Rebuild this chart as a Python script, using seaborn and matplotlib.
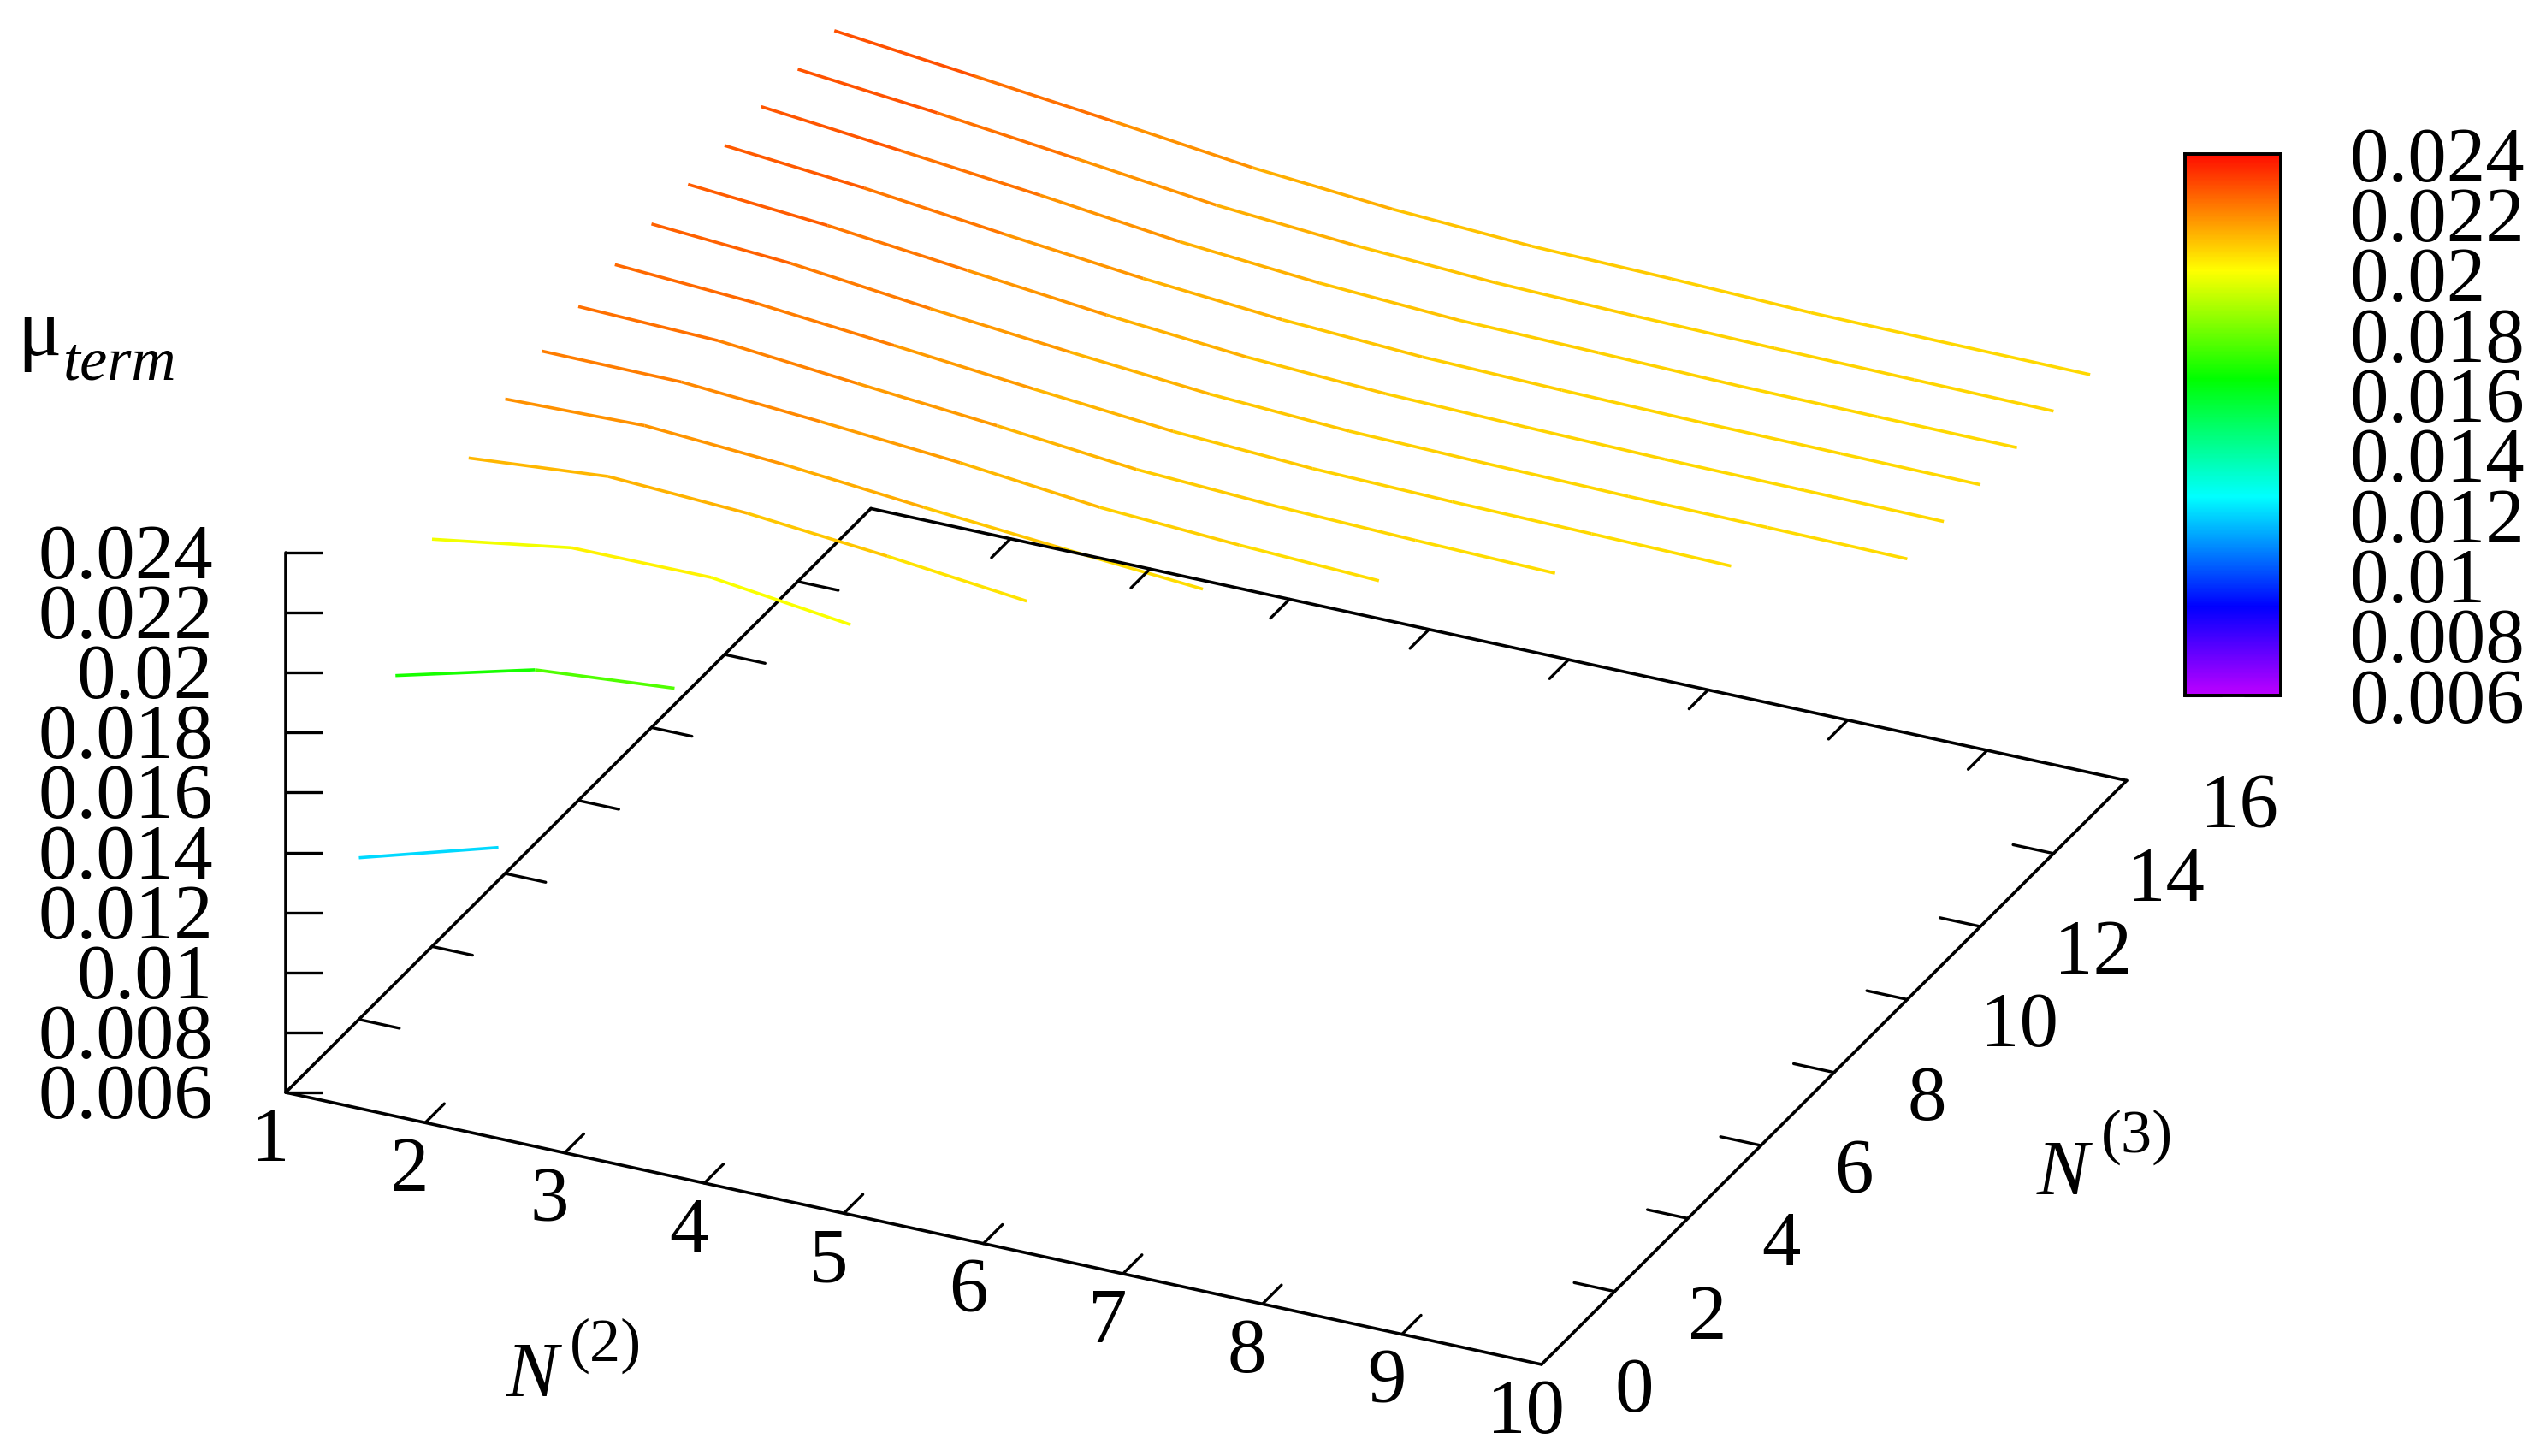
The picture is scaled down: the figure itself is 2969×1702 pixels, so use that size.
import numpy as np
import pandas as pd
import seaborn as sns
import matplotlib
matplotlib.use("Agg")
import matplotlib.pyplot as plt
from matplotlib.cm import ScalarMappable
from matplotlib.colors import LinearSegmentedColormap, Normalize

# ---------- data: mu_term along N(2) = 1, 2, ... for each N(3) ----------
n3_values = [2, 3, 4, 5, 6, 7, 8, 9, 10, 11, 12, 13, 14, 15]
mu_n3_2 = [.01139, .01274]
mu_n3_3 = [.01625, .01745, .01784]
mu_n3_4 = [.01958, .0203, .02032, .01975]
mu_n3_5 = [.02107, .02146, .02124, .02082, .02033]
mu_n3_6 = [.02182, .02194, .02165, .02123, .02086, .02052]
mu_n3_7 = [.0222, .02218, .02186, .0215, .02102, .02077, .02059]
mu_n3_8 = [.02247, .02234, .02192, .02152, .02107, .02085, .02072, .02063]
mu_n3_9 = [.02265, .02239, .02197, .02153, .02112, .02089, .02079, .02073, .02066]
mu_n3_10 = [.02279, .02248, .02198, .02154, .02115, .02092, .02083, .02076, .02073, .02069]
mu_n3_11 = [.02289, .02253, .02204, .02156, .02117, .02095, .02085, .02078, .02075, .02072]
mu_n3_12 = [.02297, .02256, .02204, .02156, .02119, .02096, .02086, .02079, .02076, .02073]
mu_n3_13 = [.02305, .02259, .02211, .02157, .0212, .02097, .02089, .0208, .02077, .02075]
mu_n3_14 = [.02308, .02263, .02211, .02157, .02123, .021, .0209, .02083, .02079, .02075]
mu_n3_15 = [.02315, .02265, .02214, .0216, .02123, .021, .02092, .0208, .02077, .02075]
mu_lines = [mu_n3_2, mu_n3_3, mu_n3_4, mu_n3_5, mu_n3_6, mu_n3_7, mu_n3_8,
            mu_n3_9, mu_n3_10, mu_n3_11, mu_n3_12, mu_n3_13, mu_n3_14, mu_n3_15]

n2_ticks = [1, 2, 3, 4, 5, 6, 7, 8, 9, 10]
n3_ticks = [0, 2, 4, 6, 8, 10, 12, 14, 16]
mu_ticks = [.006, .008, .01, .012, .014, .016, .018, .02, .022, .024]
mu_tick_labels = ["0.006", "0.008", "0.01", "0.012", "0.014", "0.016", "0.018", "0.02", "0.022", "0.024"]

# ---------- theme ----------
sns.set_theme(style="white")
SERIF = "Liberation Serif"
plt.rcParams["font.family"] = [SERIF, "DejaVu Serif"]

W, H = 2969, 1702
DPI = 100
FS = 65.5
LW_AX = 2.6
LW_TICK = 2.4
LW_LINE = 2.6

fig = plt.figure(figsize=(W / DPI, H / DPI), dpi=DPI, facecolor="white")
ax = fig.add_axes([0, 0, 1, 1])
ax.set_xlim(0, W)
ax.set_ylim(H, 0)
ax.axis("off")


# ---------- gnuplot-like oblique view of (N2, N3, mu) ----------
def project(n2, n3, mu=.006):
    x = 334 + 163.1 * (n2 - 1) + 42.75 * n3
    y = 1277 + 35.33 * (n2 - 1) - 42.66 * n3 - 35060 * (mu - .006)
    return x, y


def seg(a, b, z=1, lw=LW_AX):
    ax.plot([a[0], b[0]], [a[1], b[1]], color="black", lw=lw, zorder=z,
            solid_capstyle="round", solid_joinstyle="miter")


# ---------- colour scale ----------
cmap = LinearSegmentedColormap.from_list("rainbow_term", [
    (0.0, (190 / 255, 0, 1)),
    (0.164, (0, 0, 1)),
    (0.367, (0, 1, 1)),
    (0.585, (0, 1, 0)),
    (0.785, (1, 1, 0)),
    (1.0, (1, 0.05, 0)),
], N=512)
norm = Normalize(.006, .024)

# ---------- frame (behind the curves) ----------
seg(project(1, 0), project(1, 16), z=1)
seg(project(1, 0), project(1, 0, .024), z=1)
seg(project(1, 0), project(10, 0), z=3)
seg(project(10, 0), project(10, 16), z=3)
seg(project(1, 16), project(10, 16), z=3)

for n in n2_ticks[1:-1]:
    seg(project(n, 0), project(n, .52), z=3, lw=LW_TICK)
    seg(project(n, 16), project(n, 15.48), z=3, lw=LW_TICK)
for n in n3_ticks[1:-1]:
    seg(project(1, n), project(1.29, n), z=1, lw=LW_TICK)
    seg(project(10, n), project(9.71, n), z=3, lw=LW_TICK)
for m in mu_ticks:
    x0, y0 = project(1, 0, m)
    ax.plot([x0, x0 + 42.5], [y0, y0], color="black", lw=LW_TICK, zorder=1, solid_capstyle="butt")

# ---------- curves, each segment coloured by its mean value ----------
rows = []
palette = {}
sid = 0
for n3, mus in zip(n3_values, mu_lines):
    for i in range(len(mus) - 1):
        palette[sid] = cmap(norm((mus[i] + mus[i + 1]) / 2))
        for k in (i, i + 1):
            px, py = project(k + 1, n3, mus[k])
            rows.append({"segment": sid, "px": px, "py": py})
        sid += 1
df = pd.DataFrame(rows)
sns.lineplot(data=df, x="px", y="py", hue="segment", palette=palette, estimator=None,
             sort=False, legend=False, lw=LW_LINE, ax=ax, zorder=2, solid_capstyle="butt")
ax.set_xlim(0, W)
ax.set_ylim(H, 0)
ax.axis("off")

# ---------- tick labels ----------
for m, lab in zip(mu_ticks, mu_tick_labels):
    x0, y0 = project(1, 0, m)
    ax.text(249, y0 + 30, lab, fontsize=FS, ha="right", va="baseline", color="black")
for n in n2_ticks:
    x0, y0 = project(n, 0)
    ax.text(x0 - 18, y0 + 80, str(n), fontsize=FS, ha="center", va="baseline", color="black")
for n in n3_ticks:
    x0, y0 = project(10, n)
    ax.text(x0 + 86, y0 + 55, str(n), fontsize=FS, ha="left", va="baseline", color="black")

# ---------- axis titles ----------
ax.text(592, 1632, "N", fontsize=FS, style="italic", ha="left", va="baseline", color="black")
ax.text(666, 1591, "(2)", fontsize=52, ha="left", va="baseline", color="black")
ax.text(2381, 1396, "N", fontsize=FS, style="italic", ha="left", va="baseline", color="black")
ax.text(2456, 1347, "(3)", fontsize=52, ha="left", va="baseline", color="black")
ax.text(20, 415, "\u03bc", fontsize=69, ha="left", va="baseline", color="black")
ax.text(74, 443, "term", fontsize=52, style="italic", ha="left", va="baseline", color="black")

# ---------- colour bar ----------
cax = fig.add_axes([2554 / W, 1 - 813 / H, 112 / W, 633 / H])
cb = fig.colorbar(ScalarMappable(norm=norm, cmap=cmap), cax=cax)
cb.set_ticks(mu_ticks)
cb.set_ticklabels(mu_tick_labels)
cax.yaxis.set_ticks_position("both")
cax.tick_params(axis="y", direction="in", length=31, width=2.2, color="black",
                labelleft=False, labelright=True, labelsize=FS, pad=58, labelcolor="black")
for sp in cax.spines.values():
    sp.set_visible(True)
    sp.set_linewidth(2.6)
    sp.set_color("black")
cb.outline.set_visible(True)
cb.outline.set_linewidth(2.6)
cb.outline.set_edgecolor("black")
for lab in cax.get_yticklabels():
    lab.set_fontfamily([SERIF, "DejaVu Serif"])
    lab.set_ha("left")

fig.savefig("out.png", dpi=DPI, facecolor="white")
